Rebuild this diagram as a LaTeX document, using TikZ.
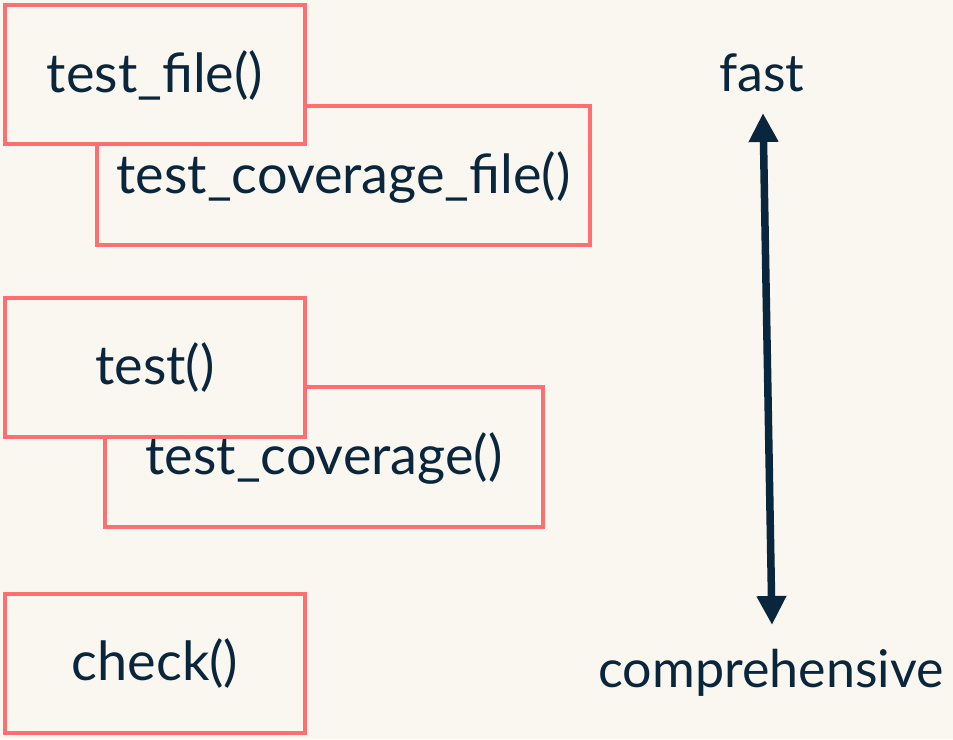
\documentclass[tikz,border=0pt]{standalone}
\usepackage{fontspec}
\setmainfont{Lato}
\usetikzlibrary{arrows.meta}
\definecolor{bg}{HTML}{FAF7F0}
\definecolor{boxred}{HTML}{FF6F6F}
\definecolor{ink}{HTML}{0A263C}
\begin{document}
\begin{tikzpicture}[x=1pt,y=-1pt,
  box/.style={draw=boxred, line width=3.3pt, fill=bg, inner sep=0pt, rectangle},
  lbl/.style={text=ink, inner sep=0pt, anchor=base, font=\fontsize{54}{60}\selectfont},
  ends/.style={text=ink, inner sep=0pt, anchor=base, font=\fontsize{52}{60}\selectfont}]
\fill[bg] (0,0) rectangle (953,739);
\useasboundingbox (0,0) rectangle (953,739);
% back boxes
\node[box, minimum width=493pt, minimum height=139pt] (tcfb) at (343.5,175.5) {};
\node[lbl] (tcf) at (343.5,193) {test\_coverage\_file()};
\node[box, minimum width=438pt, minimum height=140pt] (tcb) at (324,457) {};
\node[lbl] (tc) at (324,474) {test\_coverage()};
% front boxes
\node[box, minimum width=300pt, minimum height=139pt] (tfb) at (155,74.5) {};
\node[lbl] (tf) at (155,92) {test\_file()};
\node[box, minimum width=300pt, minimum height=139pt] (tb) at (155,367.5) {};
\node[lbl] (t) at (155,384) {test()};
\node[box, minimum width=300pt, minimum height=139pt] (cb) at (155,663.5) {};
\node[lbl] (c) at (155,680) {check()};
% axis
\node[ends] (fast) at (762,91) {fast};
\node[ends] (comp) at (771,687) {comprehensive};
\coordinate (top) at (763,113);
\coordinate (bot) at (772,625);
\draw[ink, line width=7.5pt, {Triangle[length=29pt,width=28pt]}-{Triangle[length=29pt,width=28pt]}] (top) -- (bot);
\end{tikzpicture}
\end{document}
